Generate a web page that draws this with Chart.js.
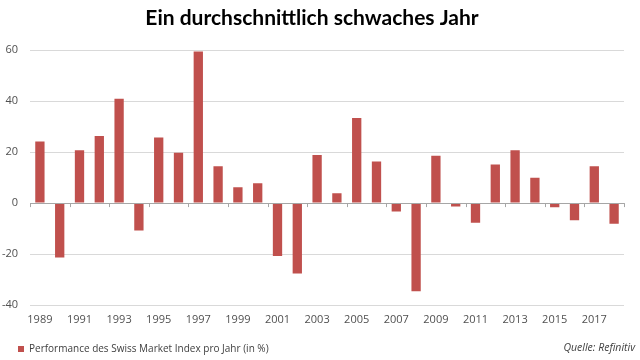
<!DOCTYPE html>
<html>
<head>
<meta charset="utf-8">
<script src="https://cdn.jsdelivr.net/npm/chart.js@4/dist/chart.umd.min.js"></script>
<style>
  html,body{margin:0;padding:0;background:#fff;}
  #wrap{position:relative;width:640px;height:360px;}
  #src{position:absolute;right:5px;top:340px;font:italic 10.5px "Open Sans",sans-serif;color:#404040;}
</style>
</head>
<body>
<div id="wrap">
<canvas id="c" width="640" height="360"></canvas>
<div id="src">Quelle: Refinitiv</div>
</div>
<script>
const years = ['1989','1990','1991','1992','1993','1994','1995','1996','1997','1998','1999','2000','2001','2002','2003','2004','2005','2006','2007','2008','2009','2010','2011','2012','2013','2014','2015','2016','2017','2018'];
const performance = [24.2,-21.4,20.7,26.3,40.9,-10.8,25.7,19.8,59.5,14.5,6.2,7.8,-20.8,-27.6,18.9,3.9,33.4,16.3,-3.3,-34.6,18.6,-1.3,-7.7,15.1,20.7,9.9,-1.6,-6.7,14.5,-8.1];
const seriesName = 'Performance des Swiss Market Index pro Jahr (in %)';
const titleText = 'Ein durchschnittlich schwaches Jahr';
const yTicks = [-40,-20,0,20,40,60];

const tickMarks = {
  id:'tickMarks',
  afterDatasetsDraw(chart){
    const x = chart.scales.x, y = chart.scales.y, ctx = chart.ctx;
    const y0 = y.getPixelForValue(0);
    const half = (x.getPixelForValue(1) - x.getPixelForValue(0))/2;
    ctx.save();
    ctx.strokeStyle = '#a6a6a6';
    ctx.lineWidth = 1;
    ctx.beginPath();
    ctx.moveTo(chart.chartArea.left, Math.round(y0)+0.5);
    ctx.lineTo(chart.chartArea.right, Math.round(y0)+0.5);
    const xs = [];
    for (let i = 0; i < years.length; i += 2) xs.push(x.getPixelForValue(i) - half);
    xs.push(x.getPixelForValue(years.length-1) + half);
    xs.forEach(px => { const p = Math.round(px)+0.5; ctx.moveTo(p, y0); ctx.lineTo(p, y0+4); });
    ctx.stroke();
    ctx.restore();
  }
};

new Chart(document.getElementById('c'), {
  type:'bar',
  data:{ labels:years, datasets:[{ label:seriesName, data:performance, backgroundColor:'#C0504D', borderWidth:0, categoryPercentage:1, barPercentage:0.47 }]},
  options:{
    responsive:false, animation:false,
    layout:{ padding:{ left:0, right:16, top:0, bottom:-4 } },
    plugins:{
      title:{ display:true, text:titleText, color:'#000', font:{ family:'Lato', weight:'bold', size:21 }, padding:{ top:6, bottom:19 } },
      legend:{ position:'bottom', align:'start', labels:{ boxWidth:6, boxHeight:6, padding:18, color:'#404040', font:{ family:'Open Sans', size:10 } } },
      tooltip:{ enabled:false }
    },
    scales:{
      x:{ grid:{ display:false, drawTicks:false }, border:{ display:false },
          afterFit(s){ s.height = 21; },
          ticks:{ autoSkip:false, maxRotation:0, color:'#505050', font:{ family:'Open Sans', size:11 }, padding:8,
                  callback:function(v,i){ return i % 2 === 0 ? this.getLabelForValue(v) : ''; } } },
      y:{ min:-40, max:60, afterBuildTicks(s){ s.ticks = yTicks.map(v=>({value:v})); },
          afterFit(s){ s.width = 30; },
          grid:{ color:'#d9d9d9', drawTicks:false }, border:{ display:false },
          ticks:{ color:'#505050', font:{ family:'Open Sans', size:11 }, padding:12 } }
    }
  },
  plugins:[tickMarks]
});
</script>
</body>
</html>
